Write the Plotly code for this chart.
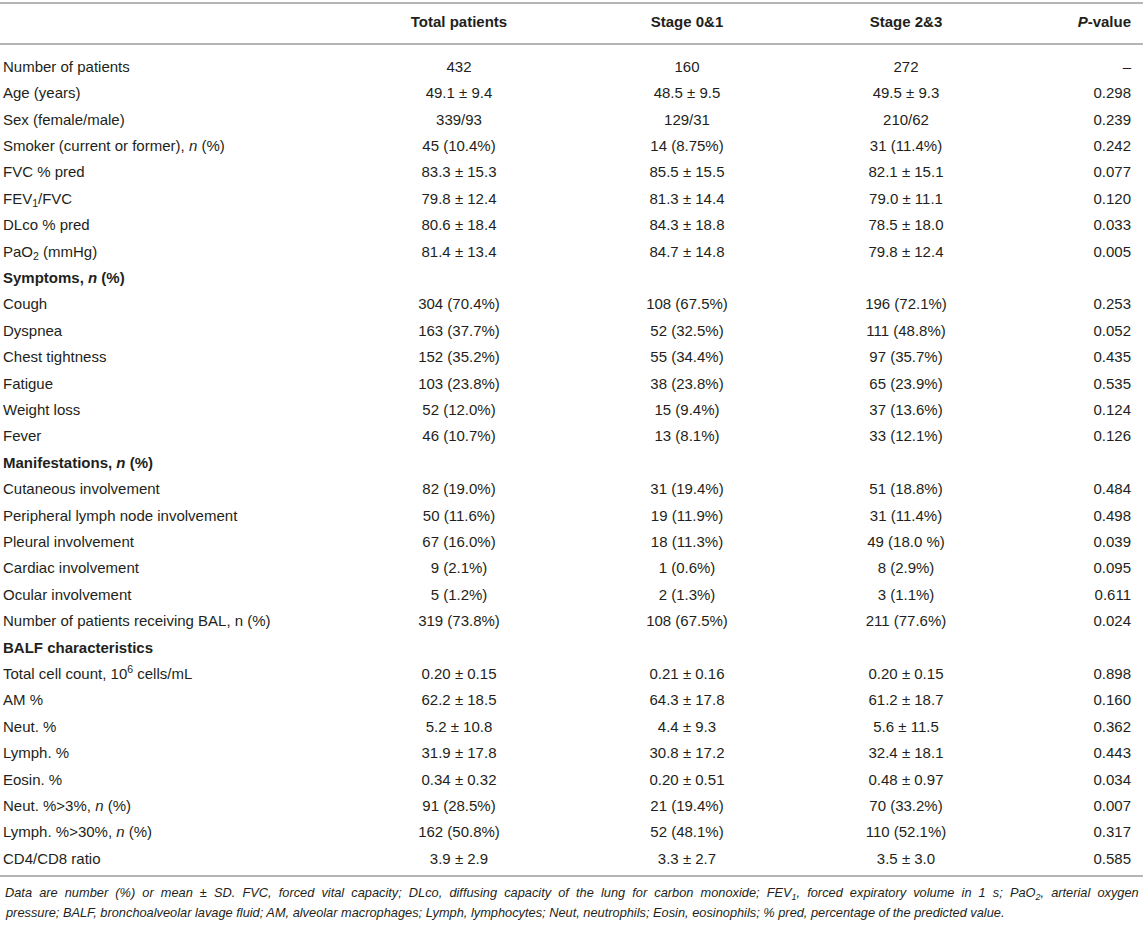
import plotly.graph_objects as go

# ===========================================================
# TABLE DATA
# ===========================================================
columns = ["", "<b>Total patients</b>", "<b>Stage 0&1</b>", "<b>Stage 2&3</b>", "<b><i>P</i>-value</b>"]

labels = [
    "Number of patients",
    "Age (years)",
    "Sex (female/male)",
    "Smoker (current or former), <i>n</i> (%)",
    "FVC % pred",
    "FEV<sub>1</sub>/FVC",
    "DLco % pred",
    "PaO<sub>2</sub> (mmHg)",
    "<b>Symptoms, <i>n</i> (%)</b>",
    "Cough",
    "Dyspnea",
    "Chest tightness",
    "Fatigue",
    "Weight loss",
    "Fever",
    "<b>Manifestations, <i>n</i> (%)</b>",
    "Cutaneous involvement",
    "Peripheral lymph node involvement",
    "Pleural involvement",
    "Cardiac involvement",
    "Ocular involvement",
    "Number of patients receiving BAL, n (%)",
    "<b>BALF characteristics</b>",
    "Total cell count, 10<sup>6</sup> cells/mL",
    "AM %",
    "Neut. %",
    "Lymph. %",
    "Eosin. %",
    "Neut. %>3%, <i>n</i> (%)",
    "Lymph. %>30%, <i>n</i> (%)",
    "CD4/CD8 ratio",
]

total = [
    "432", "49.1 ± 9.4", "339/93", "45 (10.4%)", "83.3 ± 15.3", "79.8 ± 12.4",
    "80.6 ± 18.4", "81.4 ± 13.4", "",
    "304 (70.4%)", "163 (37.7%)", "152 (35.2%)", "103 (23.8%)", "52 (12.0%)", "46 (10.7%)", "",
    "82 (19.0%)", "50 (11.6%)", "67 (16.0%)", "9 (2.1%)", "5 (1.2%)", "319 (73.8%)", "",
    "0.20 ± 0.15", "62.2 ± 18.5", "5.2 ± 10.8", "31.9 ± 17.8", "0.34 ± 0.32",
    "91 (28.5%)", "162 (50.8%)", "3.9 ± 2.9",
]

stage01 = [
    "160", "48.5 ± 9.5", "129/31", "14 (8.75%)", "85.5 ± 15.5", "81.3 ± 14.4",
    "84.3 ± 18.8", "84.7 ± 14.8", "",
    "108 (67.5%)", "52 (32.5%)", "55 (34.4%)", "38 (23.8%)", "15 (9.4%)", "13 (8.1%)", "",
    "31 (19.4%)", "19 (11.9%)", "18 (11.3%)", "1 (0.6%)", "2 (1.3%)", "108 (67.5%)", "",
    "0.21 ± 0.16", "64.3 ± 17.8", "4.4 ± 9.3", "30.8 ± 17.2", "0.20 ± 0.51",
    "21 (19.4%)", "52 (48.1%)", "3.3 ± 2.7",
]

stage23 = [
    "272", "49.5 ± 9.3", "210/62", "31 (11.4%)", "82.1 ± 15.1", "79.0 ± 11.1",
    "78.5 ± 18.0", "79.8 ± 12.4", "",
    "196 (72.1%)", "111 (48.8%)", "97 (35.7%)", "65 (23.9%)", "37 (13.6%)", "33 (12.1%)", "",
    "51 (18.8%)", "31 (11.4%)", "49 (18.0 %)", "8 (2.9%)", "3 (1.1%)", "211 (77.6%)", "",
    "0.20 ± 0.15", "61.2 ± 18.7", "5.6 ± 11.5", "32.4 ± 18.1", "0.48 ± 0.97",
    "70 (33.2%)", "110 (52.1%)", "3.5 ± 3.0",
]

pvalue = [
    "–", "0.298", "0.239", "0.242", "0.077", "0.120", "0.033", "0.005", "",
    "0.253", "0.052", "0.435", "0.535", "0.124", "0.126", "",
    "0.484", "0.498", "0.039", "0.095", "0.611", "0.024", "",
    "0.898", "0.160", "0.362", "0.443", "0.034", "0.007", "0.317", "0.585",
]

footnote = [
    "Data are number (%) or mean ± SD. FVC, forced vital capacity; DLco, diffusing capacity of the lung for carbon monoxide; "
    "FEV<sub>1</sub>, forced expiratory volume in 1 s; PaO<sub>2</sub>, arterial oxygen",
    "pressure; BALF, bronchoalveolar lavage fluid; AM, alveolar macrophages; Lymph, lymphocytes; Neut, neutrophils; "
    "Eosin, eosinophils; % pred, percentage of the predicted value.",
]

# ===========================================================
# LAYOUT CONSTANTS (pixels)
# ===========================================================
W, H = 1143, 927
ROW_H = 26.4
FIRST_ROW_PX = 68
HEADER_PX = 23

def px_to_row(p):
    return (p - FIRST_ROW_PX) / ROW_H

col_x = [3, 459, 687, 906, 1131]
col_pos = ["middle right", "middle center", "middle center", "middle center", "middle left"]

TEXT = "#231f20"
RULE = "#b5b5b5"
FONT = "Liberation Sans, Arial, Helvetica, sans-serif"

rows = list(range(len(labels)))
fig = go.Figure()

# header
fig.add_trace(go.Scatter(
    x=col_x, y=[px_to_row(HEADER_PX)] * len(columns), text=columns,
    mode="text", textposition=col_pos,
    textfont=dict(family=FONT, size=15, color=TEXT),
    hoverinfo="skip", showlegend=False
))

# body columns
for i, values in enumerate([labels, total, stage01, stage23, pvalue]):
    fig.add_trace(go.Scatter(
        x=[col_x[i]] * len(values), y=rows, text=values,
        mode="text", textposition=col_pos[i],
        textfont=dict(family=FONT, size=15, color=TEXT),
        hoverinfo="skip", showlegend=False
    ))

# horizontal rules
for p in [3, 44, 876]:
    fig.add_shape(type="line", xref="paper", yref="y", x0=0, x1=1,
                  y0=px_to_row(p), y1=px_to_row(p),
                  line=dict(color=RULE, width=2))

# footnote lines (first line is justified in the source, so widen its gaps)
for j, line in enumerate(footnote):
    if j == 0:
        line = line.replace(" ", " &nbsp;")
    fig.add_annotation(
        x=3, y=px_to_row(893 + j * 19), xref="x", yref="y",
        text=f"<i>{line}</i>", showarrow=False,
        xanchor="left", yanchor="middle", align="left",
        font=dict(family=FONT, size=12.8, color=TEXT)
    )

fig.update_layout(
    width=W, height=H,
    margin=dict(l=0, r=0, t=0, b=0),
    paper_bgcolor="white", plot_bgcolor="white",
    xaxis=dict(range=[0, W], visible=False, fixedrange=True),
    yaxis=dict(range=[px_to_row(H), px_to_row(0)], visible=False, fixedrange=True),
)

fig.write_html("out.html", config={"displayModeBar": False},
               post_script="document.body.style.margin='0';")
